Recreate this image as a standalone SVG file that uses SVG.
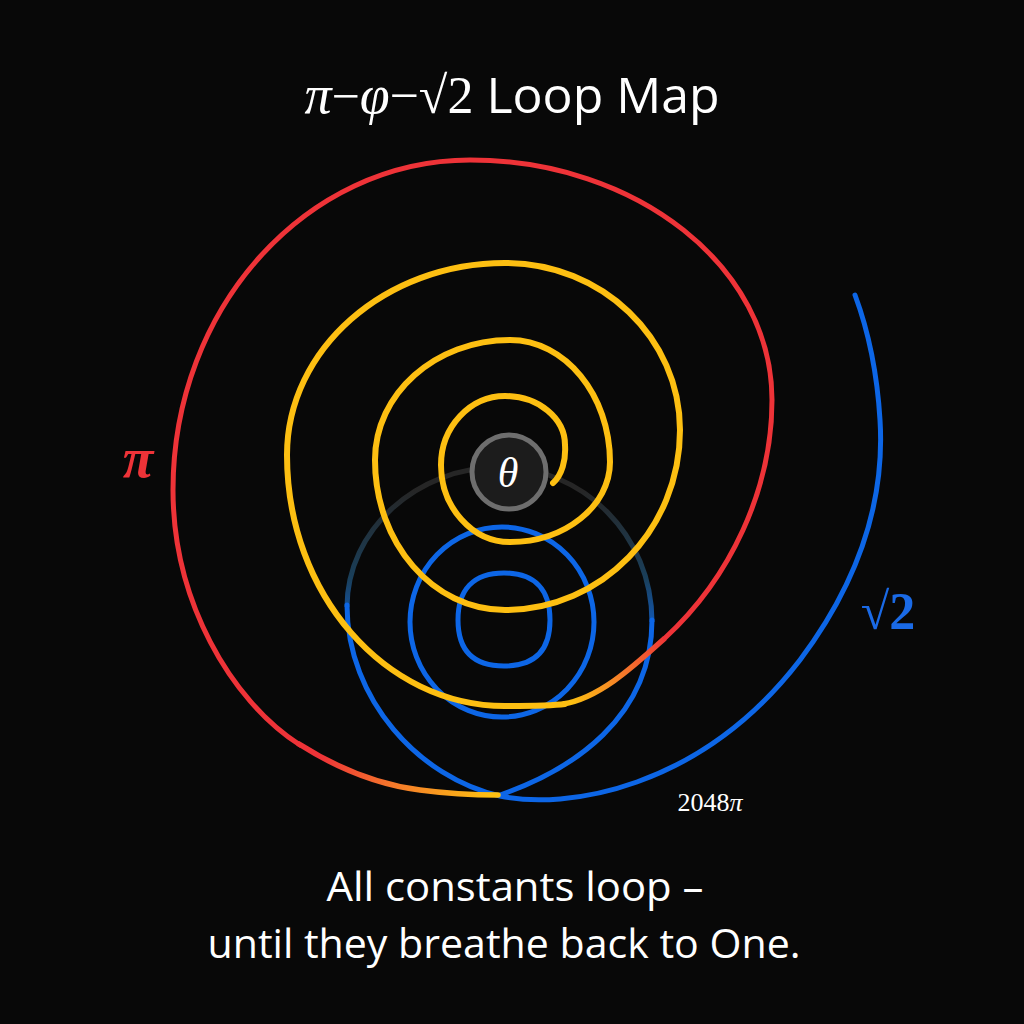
<svg xmlns="http://www.w3.org/2000/svg" width="1024" height="1024" viewBox="0 0 1024 1024">
  <defs>
    <style>
      .yel { fill: none; stroke: #fdbf12; stroke-width: 6; stroke-linecap: round; }
      .red { fill: none; stroke: #ee3338; stroke-width: 5; stroke-linecap: round; }
      .blu { fill: none; stroke: #0d66e6; stroke-width: 5; stroke-linecap: round; }
      .sans { font-family: "Open Sans", "Noto Sans", sans-serif; fill: #ffffff; }
      .serif { font-family: "Liberation Serif", "DejaVu Serif", serif; }
    </style>
    <linearGradient id="gYR" gradientUnits="userSpaceOnUse" x1="570" y1="700" x2="668" y2="636">
      <stop offset="0" stop-color="#fdbf12"/>
      <stop offset="0.5" stop-color="#f57a2a"/>
      <stop offset="1" stop-color="#ee3338"/>
    </linearGradient>
    <linearGradient id="gRY" gradientUnits="userSpaceOnUse" x1="320" y1="760" x2="490" y2="795">
      <stop offset="0" stop-color="#ee3338"/>
      <stop offset="0.45" stop-color="#f57a2a"/>
      <stop offset="1" stop-color="#fdbf12"/>
    </linearGradient>
    <linearGradient id="gDark" gradientUnits="userSpaceOnUse" x1="0" y1="650" x2="0" y2="490">
      <stop offset="0" stop-color="#0d66e6"/>
      <stop offset="0.45" stop-color="#1a3f5a"/>
      <stop offset="1" stop-color="#262626"/>
    </linearGradient>
  </defs>
  <rect width="1024" height="1024" fill="#080808"/>

  <g id="title">
    <text x="512" y="113" text-anchor="middle" font-size="50" class="sans"><tspan class="serif" font-style="italic" font-size="54">π</tspan><tspan class="serif">−</tspan><tspan class="serif" font-style="italic" font-size="54">φ</tspan><tspan class="serif" font-size="52">−√2</tspan> Loop Map</text>
  </g>

  <g id="connectors">
    <g id="blue-loops">
      <path class="blu" d="M504,573 C535,573 550,590 550,620 C550,650 535,666 504,666 C473,666 458,650 458,620 C458,590 473,573 504,573 Z"/>
      <ellipse class="blu" cx="502" cy="622" rx="92" ry="95"/>
      <path fill="none" stroke="url(#gDark)" stroke-width="5" d="M652,622 C652,535 583,467 500,467 C417,467 347,530 347,607"/>
      <path class="blu" d="M500,795 C572,770 652,718 652,620"/>
      <path class="blu" d="M347,605 C347,700 420,778 500,796 C565,810 700,790 800,660 C860,580 885,500 880,420 C877,370 868,330 855,295"/>
    </g>
    <g id="spiral">
      <path class="yel" d="M553,483 C562,475 566,460 565,445 C565,418 538,396 505,396 C470,396 441,427 441,465 C441,507 472,542 510,542 C565,542 610,506 610,462 C610,395 565,340 510,340 C435,340 375,394 375,460 C375,543 433,610 505,610 C602,610 680,529 680,430 C680,338 602,263 505,263 C385,263 287,349 287,455 C287,594 385,706 505,706 C535,706 550,706 565,704"/>
      <path fill="none" stroke="url(#gYR)" stroke-width="5.5" d="M563,704 C600,698 635,665 665,638"/>
      <path class="red" d="M665,638 C730,578 772,490 772,400 C772,267 637,160 470,160 C306,160 173,308 173,490 C173,600 230,700 300,745"/>
      <path fill="none" stroke="url(#gRY)" stroke-width="5.5" stroke-linecap="round" d="M299,744 C340,770 380,785 420,790 C450,794 475,795 498,795"/>
    </g>
  </g>

  <g id="theta-node">
    <circle cx="509" cy="472" r="37" fill="#1c1c1c" stroke="#6e6e6e" stroke-width="5"/>
    <text x="508" y="487" text-anchor="middle" font-size="42" font-style="italic" class="serif" fill="#ffffff">θ</text>
  </g>

  <g id="labels">
    <text x="138" y="477" text-anchor="middle" font-size="56" font-style="italic" font-weight="bold" class="serif" fill="#ee3338">π</text>
    <text x="888" y="629" text-anchor="middle" font-size="52" font-weight="bold" class="serif" fill="#1a6ae6">√2</text>
    <text x="710" y="811" text-anchor="middle" font-size="26" class="serif" fill="#ffffff">2048<tspan font-style="italic">π</tspan></text>
  </g>

  <g id="caption">
    <text x="515" y="901" text-anchor="middle" font-size="40" class="sans" textLength="377" lengthAdjust="spacingAndGlyphs">All constants loop –</text>
    <text x="504" y="958" text-anchor="middle" font-size="40" class="sans" textLength="593" lengthAdjust="spacingAndGlyphs">until they breathe back to One.</text>
  </g>
</svg>
